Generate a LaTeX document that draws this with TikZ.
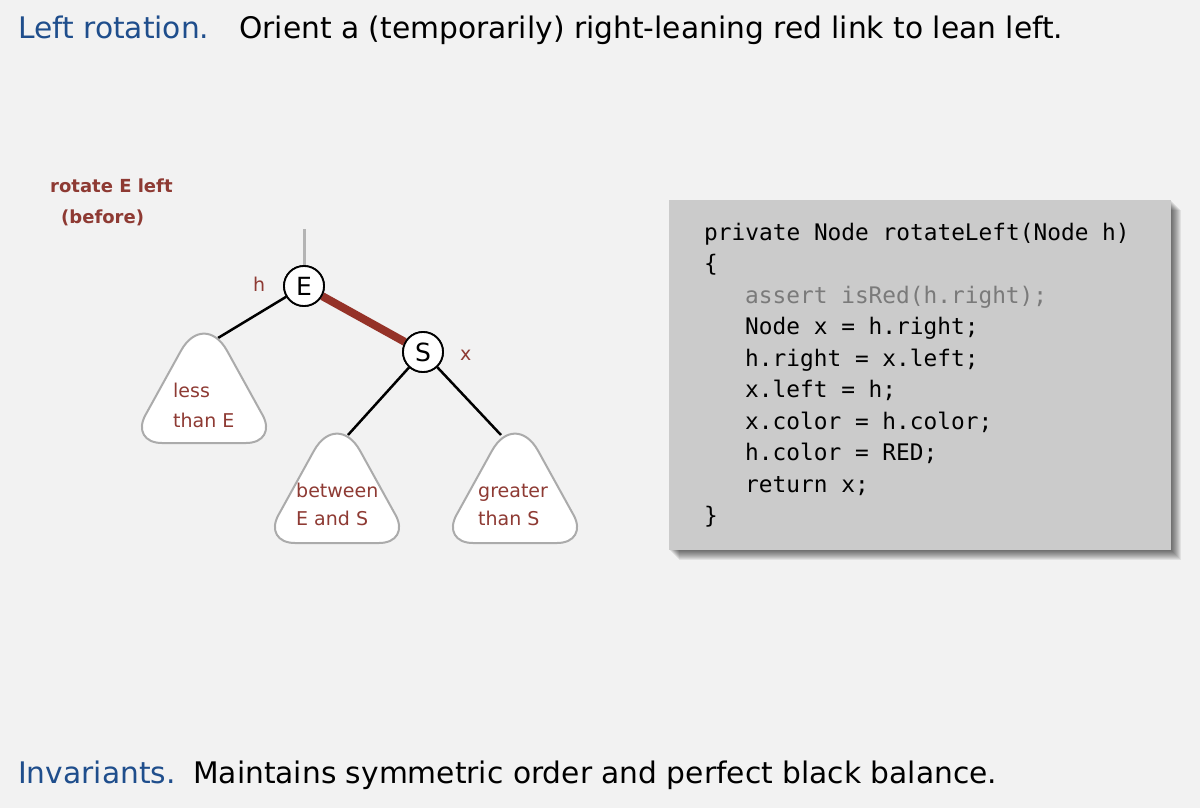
\documentclass[tikz,border=0pt]{standalone}
\usepackage{fontspec}
\setmainfont{DejaVu Sans}
\newfontfamily\codefont{DejaVu Sans Mono}
\definecolor{bgc}{HTML}{F2F2F2}
\definecolor{ttl}{HTML}{1F4E8C}
\definecolor{lbl}{HTML}{8E3A33}
\definecolor{redlink}{HTML}{953228}
\definecolor{codebg}{HTML}{CBCBCB}
\definecolor{tri}{HTML}{ABABAB}
\definecolor{asrt}{HTML}{7A7A7A}
\definecolor{stub}{HTML}{B4B4B4}
\begin{document}
\begin{tikzpicture}[x=1pt,y=-1pt,
  head/.style={anchor=base west, inner sep=0, font=\fontsize{29.7}{35}\selectfont},
  rbnode/.style={circle, draw=black, line width=1.8pt, fill=white, minimum size=40pt, inner sep=0, font=\fontsize{25}{30}\selectfont},
  treeedge/.style={line width=2.5pt, black},
  rededge/.style={line width=8pt, redlink},
  subtreestyle/.style={draw=tri, line width=2pt, fill=white},
  subtree/.pic={\draw[subtreestyle] (0,110) [rounded corners=32pt] -- (74,110) [rounded corners=48pt] -- (0,-24) [rounded corners=32pt] -- (-74,110) [sharp corners] -- cycle;},
  lbltext/.style={anchor=base west, inner sep=0, text=lbl, font=\fontsize{19}{23}\selectfont},
  caption/.style={anchor=base west, inner sep=0, text=lbl, font=\fontsize{18}{22}\selectfont\bfseries},
  code/.style={anchor=base west, inner sep=0, font=\codefont\fontsize{22.8}{27}\selectfont}
]
\useasboundingbox (0,0) rectangle (1200,808);
\fill[bgc] (0,0) rectangle (1200,808);

% headings
\node[head, text=ttl] (t1) at (18,39) {Left rotation.};
\node[head] (t2) at (239,39) {Orient a (temporarily) right-leaning red link to lean left.};
\node[head, text=ttl] (b1) at (18,783) {Invariants.};
\node[head] (b2) at (193,783) {Maintains symmetric order and perfect black balance.};

% caption
\node[caption] (c1) at (50,192) {rotate E left};
\node[caption] (c2) at (61,223) {(before)};

% tree
\node[rbnode] (E) at (304,286) {E};
\node[rbnode] (S) at (423,352) {S};
\coordinate (top) at (304,229);
\coordinate (ta) at (218,338);
\coordinate (tb) at (348,435);
\coordinate (tc) at (501,435);
\draw[line width=3pt, stub] (E) -- (top);
\draw[treeedge] (E) -- (ta);
\draw[treeedge] (S) -- (tb);
\draw[treeedge] (S) -- (tc);
\draw[rededge] (E) -- (S);
\node[rbnode] at (E) {E};
\node[rbnode] at (S) {S};

\pic at (204,333) {subtree};
\pic at (337,433) {subtree};
\pic at (515,433) {subtree};

\node[lbltext] (hl) at (253,291) {h};
\node[lbltext] (xl) at (460,360) {x};

\node[lbltext] (l1) at (173,397) {less};
\node[lbltext] (l2) at (173,427) {than E};
\node[lbltext] (m1) at (296,497) {between};
\node[lbltext] (m2) at (296,525) {E and S};
\node[lbltext] (r1) at (478,497) {greater};
\node[lbltext] (r2) at (478,525) {than S};

% code box
\foreach \s in {1,...,10} {
  \fill[black, opacity=0.07] (669+\s,200+\s) rectangle (1171+\s,550+\s);
}
\fill[codebg] (669,200) rectangle (1171,550);

\node[code] (k1) at (704,240) {private Node rotateLeft(Node h)};
\node[code] (k2) at (704,271.5) {\{};
\node[code, text=asrt] (k3) at (745,303) {assert isRed(h.right);};
\node[code] (k4) at (745,334.5) {Node x = h.right;};
\node[code] (k5) at (745,366) {h.right = x.left;};
\node[code] (k6) at (745,397.5) {x.left = h;};
\node[code] (k7) at (745,429) {x.color = h.color;};
\node[code] (k8) at (745,460.5) {h.color = RED;};
\node[code] (k9) at (745,492) {return x;};
\node[code] (k10) at (704,523.5) {\}};
\end{tikzpicture}
\end{document}
